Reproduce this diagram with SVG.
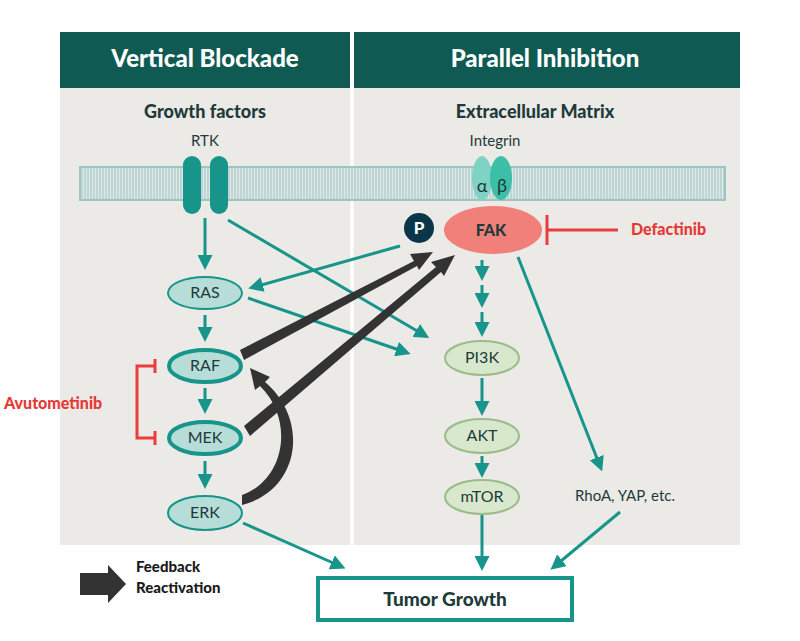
<svg xmlns="http://www.w3.org/2000/svg" width="800" height="641" viewBox="0 0 800 641">
<style>
.t{font-family:"Lato","Liberation Sans",sans-serif}
.tl{stroke:#17958a;stroke-width:3;fill:none}
.dk{fill:#333333}
.nb{fill:#b7ddd8;stroke:#17958a;stroke-width:2}
.nbt{fill:#b7ddd8;stroke:#17958a;stroke-width:4}
.ng{fill:#d8e8cd;stroke:#9bbb8a;stroke-width:2}
.lab{font-size:16px;fill:#1f3a3a;text-anchor:middle}
</style>
<defs>
<marker id="ah" markerWidth="5" markerHeight="5" refX="3" refY="2.5" orient="auto" markerUnits="strokeWidth"><path d="M0,0L5,2.5L0,5z" fill="#17958a"/></marker>
<pattern id="mem" width="3" height="34" patternUnits="userSpaceOnUse"><rect width="3" height="34" fill="#dfe8e6"/><line x1="1" y1="0" x2="1" y2="34" stroke="#9cc5c0" stroke-width="1"/></pattern>
</defs>
<rect width="800" height="641" fill="#ffffff"/>
<rect x="60" y="32" width="680" height="513" fill="#ebeae6"/>
<rect x="60" y="32" width="290" height="56" fill="#0f5a52"/>
<rect x="354" y="32" width="386" height="56" fill="#0f5a52"/>
<line x1="352" y1="32" x2="352" y2="545" stroke="#ffffff" stroke-width="3"/>
<text class="t" x="205" y="67" font-size="24" font-weight="900" fill="#fff" text-anchor="middle">Vertical Blockade</text>
<text class="t" x="545" y="67" font-size="24" font-weight="900" fill="#fff" text-anchor="middle">Parallel Inhibition</text>
<text class="t" x="205" y="118" font-size="18" font-weight="900" fill="#1f3a3a" text-anchor="middle">Growth factors</text>
<text class="t" x="535" y="118" font-size="18" font-weight="900" fill="#1f3a3a" text-anchor="middle">Extracellular Matrix</text>
<text class="t" x="205" y="146" font-size="15" fill="#1f3a3a" text-anchor="middle">RTK</text>
<text class="t" x="495" y="146" font-size="15" fill="#1f3a3a" text-anchor="middle">Integrin</text>
<rect x="80" y="167" width="645" height="33" fill="url(#mem)" stroke="#9cc5c0" stroke-width="2"/>
<g id="rtk"><rect x="183" y="156" width="18" height="58" rx="9" fill="#17958a"/><rect x="210" y="156" width="18" height="58" rx="9" fill="#17958a"/></g>
<g id="integrin"><ellipse cx="482" cy="178" rx="10" ry="22" fill="#7fd3c4"/><ellipse cx="501" cy="178" rx="11" ry="22" fill="#3cbfa6"/>
<text class="t" x="482" y="192" font-size="18" fill="#1f3a3a" text-anchor="middle">α</text><text class="t" x="502" y="192" font-size="18" fill="#1f3a3a" text-anchor="middle">β</text></g>
<g id="conn">
<line class="tl" x1="205" y1="218" x2="205" y2="264" marker-end="url(#ah)"/>
<line class="tl" x1="228" y1="220" x2="424" y2="335" marker-end="url(#ah)"/>
<line class="tl" x1="400" y1="246" x2="254" y2="287" marker-end="url(#ah)"/>
<line class="tl" x1="248" y1="298" x2="405" y2="352" marker-end="url(#ah)"/>
<line class="tl" x1="205" y1="315" x2="205" y2="336" marker-end="url(#ah)"/>
<line class="tl" x1="205" y1="388" x2="205" y2="408" marker-end="url(#ah)"/>
<line class="tl" x1="205" y1="461" x2="205" y2="483" marker-end="url(#ah)"/>
<line class="tl" x1="482" y1="260" x2="482" y2="275" marker-end="url(#ah)"/>
<line class="tl" x1="482" y1="285" x2="482" y2="302" marker-end="url(#ah)"/>
<line class="tl" x1="482" y1="312" x2="482" y2="331" marker-end="url(#ah)"/>
<line class="tl" x1="482" y1="378" x2="482" y2="410" marker-end="url(#ah)"/>
<line class="tl" x1="482" y1="456" x2="482" y2="472" marker-end="url(#ah)"/>
<line class="tl" x1="518" y1="257" x2="600" y2="466" marker-end="url(#ah)"/>
<line class="tl" x1="243" y1="523" x2="340" y2="566" marker-end="url(#ah)"/>
<line class="tl" x1="482" y1="515" x2="482" y2="565" marker-end="url(#ah)"/>
<line class="tl" x1="620" y1="512" x2="555" y2="566" marker-end="url(#ah)"/>
<g stroke="#ea3c3c" stroke-width="3" fill="none">
<line x1="547" y1="230" x2="618" y2="230"/><line x1="547" y1="215" x2="547" y2="245"/>
<polyline points="155,366 137,366 137,438 155,438"/><line x1="155" y1="359" x2="155" y2="373"/><line x1="155" y1="431" x2="155" y2="445"/>
</g>
<g class="dk">
<polygon points="240,350 414,261 410,254 433,252 419,270 417,266 244,360"/>
<polygon points="244,426 436,267 431,262 455,255 444,276 441,272 250,436"/>
<path d="M242,505 C300,490 310,420 265,382 L270,377 L250,368 L255,390 L260,386 C295,420 285,480 242,495z"/>
<polygon points="80,573 108,573 108,565 126,584 108,603 108,595 80,595"/>
</g>
</g>
<g id="fak"><ellipse cx="493" cy="230" rx="49" ry="24" fill="#f08079"/><text class="t" x="491" y="236" font-size="16" font-weight="900" fill="#1f3a3a" text-anchor="middle">FAK</text></g>
<g id="p"><circle cx="419" cy="228" r="15" fill="#0b3548"/><text class="t" x="419" y="234" font-size="17" font-weight="900" fill="#fff" text-anchor="middle">P</text></g>
<text class="t" x="631" y="235" font-size="16" font-weight="900" fill="#e53935">Defactinib</text>
<text class="t" x="4" y="409" font-size="16" font-weight="900" fill="#e53935">Avutometinib</text>
<g id="ras"><ellipse class="nb" cx="205" cy="293" rx="37" ry="16"/><text class="t lab" x="205" y="298">RAS</text></g>
<g id="raf"><ellipse class="nbt" cx="205" cy="366" rx="36" ry="16"/><text class="t lab" x="205" y="371">RAF</text></g>
<g id="mek"><ellipse class="nbt" cx="205" cy="438" rx="36" ry="16"/><text class="t lab" x="205" y="443">MEK</text></g>
<g id="erk"><ellipse class="nb" cx="205" cy="513" rx="37" ry="17"/><text class="t lab" x="205" y="518">ERK</text></g>
<g id="pi3k"><ellipse class="ng" cx="482" cy="358" rx="37" ry="17"/><text class="t lab" x="482" y="363">PI3K</text></g>
<g id="akt"><ellipse class="ng" cx="482" cy="436" rx="37" ry="17"/><text class="t lab" x="482" y="441">AKT</text></g>
<g id="mtor"><ellipse class="ng" cx="482" cy="497" rx="37" ry="17"/><text class="t lab" x="482" y="502">mTOR</text></g>
<text class="t" x="625" y="501" font-size="15" fill="#1f3a3a" text-anchor="middle">RhoA, YAP, etc.</text>
<g id="legend"><text class="t" x="136" y="572" font-size="15" font-weight="900" fill="#1a1a1a">Feedback</text><text class="t" x="136" y="593" font-size="15" font-weight="900" fill="#1a1a1a">Reactivation</text></g>
<g id="tumor"><rect x="318" y="578" width="254" height="42" fill="#fff" stroke="#17958a" stroke-width="4"/><text class="t" x="445" y="606" font-size="19" font-weight="900" fill="#1f3a3a" text-anchor="middle">Tumor Growth</text></g>
</svg>
